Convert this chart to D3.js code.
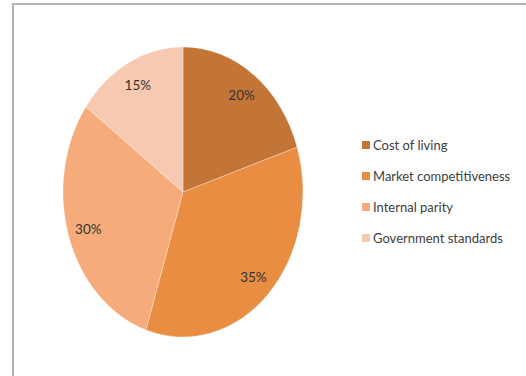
<!DOCTYPE html>
<html lang="en">
<head>
  <meta charset="UTF-8">
  <title>Pie chart</title>
  <script src="https://d3js.org/d3.v7.min.js"></script>
  <style>
    body {
      margin: 0;
      padding: 0;
      background-color: #fff;
    }
    .frame {
      fill: none;
      stroke: #b3b3b3;
      stroke-width: 2px;
    }
    text {
      font-family: Lato, "Open Sans", sans-serif;
      fill: #404040;
    }
  </style>
</head>
<body>
  <div id="chart"></div>

  <script>
    // Input data
    const categories = ['Cost of living', 'Market competitiveness', 'Internal parity', 'Government standards'];
    const shares = [20, 35, 30, 15];
    const colors = ['#c27536', '#e98d42', '#f6ab7a', '#f8c9b1'];

    const width = 526;
    const height = 376;

    const svg = d3.select('#chart')
      .append('svg')
      .attr('width', width)
      .attr('height', height);

    // chart area frame (only top and left edges show)
    svg.append('rect')
      .attr('class', 'frame')
      .attr('x', 13)
      .attr('y', 4)
      .attr('width', 530)
      .attr('height', 400);

    // Pie is drawn as a circle and stretched into an ellipse
    const cx = 183, cy = 192, rx = 120, ry = 145;

    const pie = d3.pie().sort(null).value(d => d);
    const arcs = pie(shares);

    const arc = d3.arc().innerRadius(0).outerRadius(1);
    const labelArc = d3.arc().innerRadius(0.83).outerRadius(0.83);

    const g = svg.append('g')
      .attr('transform', `translate(${cx},${cy})`);

    g.append('g')
      .attr('transform', `scale(${rx},${ry})`)
      .selectAll('path')
      .data(arcs)
      .enter()
      .append('path')
      .attr('d', arc)
      .attr('fill', (d, i) => colors[i])
      .attr('stroke', '#fff')
      .attr('stroke-opacity', 0.5)
      .attr('stroke-width', 0.6)
      .attr('vector-effect', 'non-scaling-stroke');

    g.selectAll('text.pct')
      .data(arcs)
      .enter()
      .append('text')
      .attr('class', 'pct')
      .attr('x', d => labelArc.centroid(d)[0] * rx)
      .attr('y', d => labelArc.centroid(d)[1] * ry)
      .attr('text-anchor', 'middle')
      .attr('dominant-baseline', 'central')
      .style('font-size', '13.5px')
      .style('fill', '#333')
      .text(d => d.data + '%');

    // Legend
    const legend = svg.append('g')
      .attr('transform', 'translate(362,145)');

    const item = legend.selectAll('g')
      .data(categories)
      .enter()
      .append('g')
      .attr('transform', (d, i) => `translate(0,${i * 31})`);

    item.append('rect')
      .attr('x', 0)
      .attr('y', -4)
      .attr('width', 8)
      .attr('height', 8)
      .attr('fill', (d, i) => colors[i]);

    item.append('text')
      .attr('x', 11)
      .attr('y', 0)
      .attr('dominant-baseline', 'central')
      .style('font-size', '13px')
      .text(d => d);
  </script>
</body>
</html>
